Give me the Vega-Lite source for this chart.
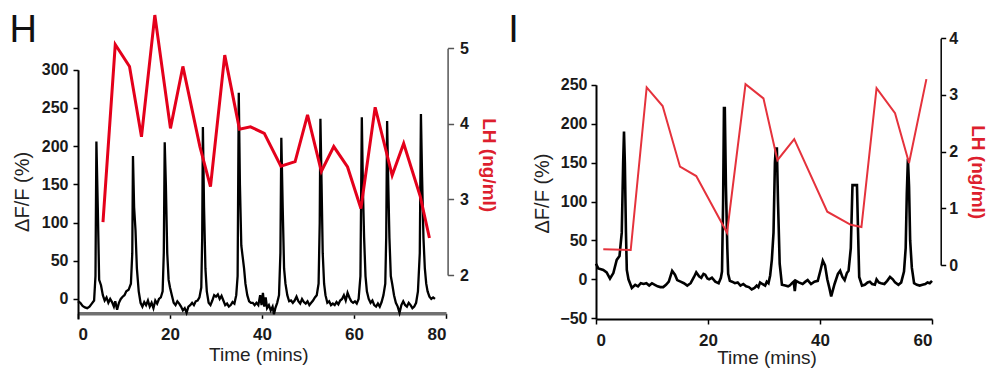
{
  "$schema": "https://vega.github.io/schema/vega-lite/v6.json",
  "background": "white",
  "padding": {"left": 9, "top": 9, "right": 10, "bottom": 0},
  "bounds": "flush",
  "spacing": 150,
  "config": {
    "view": {"stroke": null},
    "axis": {
      "grid": false,
      "labelFont": "Liberation Sans",
      "labelFontSize": 16,
      "labelFontWeight": "bold",
      "labelColor": "#1a1a1a",
      "titleFont": "Liberation Sans",
      "titleFontWeight": "normal",
      "titleColor": "#222222",
      "tickSize": 5,
      "tickWidth": 1.5,
      "tickColor": "#000000",
      "domainColor": "#000000",
      "domainWidth": 2
    }
  },
  "datasets": {
    "hBlack": [
      {"t":0,"v":-3},{"t":0.5,"v":-5},{"t":1,"v":-9},{"t":1.5,"v":-11},{"t":2,"v":-12},{"t":2.5,"v":-10},{"t":3,"v":-6},{"t":3.5,"v":-2},{"t":3.8,"v":30},{"t":4.0,"v":206},{"t":4.3,"v":120},{"t":4.6,"v":25},{"t":5.0,"v":18},{"t":5.4,"v":5},{"t":5.8,"v":-2},{"t":6.2,"v":2},{"t":6.6,"v":-5},{"t":7.0,"v":0},{"t":7.4,"v":-4},{"t":7.8,"v":-10},{"t":8.1,"v":-3},{"t":8.5,"v":-14},{"t":8.9,"v":-5},{"t":9.3,"v":0},{"t":9.7,"v":3},{"t":10.1,"v":5},{"t":10.5,"v":10},{"t":11.0,"v":12},{"t":11.5,"v":20},{"t":11.8,"v":60},{"t":11.95,"v":187},{"t":12.2,"v":120},{"t":12.5,"v":90},{"t":12.8,"v":40},{"t":13.2,"v":10},{"t":13.6,"v":-5},{"t":14.0,"v":-10},{"t":14.4,"v":-4},{"t":14.8,"v":-8},{"t":15.2,"v":-2},{"t":15.6,"v":-10},{"t":16.0,"v":-5},{"t":16.4,"v":-12},{"t":16.8,"v":-2},{"t":17.2,"v":-6},{"t":17.6,"v":0},{"t":18.0,"v":2},{"t":18.4,"v":10},{"t":18.65,"v":60},{"t":18.85,"v":205},{"t":19.1,"v":150},{"t":19.4,"v":60},{"t":19.7,"v":25},{"t":20.0,"v":15},{"t":20.4,"v":5},{"t":20.8,"v":-5},{"t":21.2,"v":-8},{"t":21.6,"v":-3},{"t":22.0,"v":-6},{"t":22.4,"v":-10},{"t":22.8,"v":-15},{"t":23.2,"v":-12},{"t":23.6,"v":-18},{"t":24.0,"v":-10},{"t":24.4,"v":-8},{"t":24.8,"v":-5},{"t":25.2,"v":-8},{"t":25.6,"v":-3},{"t":26.0,"v":-2},{"t":26.4,"v":2},{"t":26.8,"v":15},{"t":27.0,"v":80},{"t":27.15,"v":225},{"t":27.4,"v":120},{"t":27.7,"v":40},{"t":28.0,"v":10},{"t":28.4,"v":-5},{"t":28.8,"v":-8},{"t":29.2,"v":-2},{"t":29.6,"v":5},{"t":30.0,"v":3},{"t":30.4,"v":6},{"t":30.8,"v":0},{"t":31.2,"v":4},{"t":31.6,"v":-2},{"t":32.0,"v":-8},{"t":32.4,"v":-6},{"t":32.8,"v":-10},{"t":33.2,"v":-8},{"t":33.6,"v":-4},{"t":34.0,"v":-6},{"t":34.4,"v":5},{"t":34.7,"v":30},{"t":34.95,"v":270},{"t":35.2,"v":150},{"t":35.5,"v":70},{"t":35.8,"v":55},{"t":36.1,"v":40},{"t":36.4,"v":20},{"t":36.8,"v":5},{"t":37.2,"v":-3},{"t":37.6,"v":-5},{"t":38.0,"v":-5},{"t":38.4,"v":-8},{"t":38.8,"v":-5},{"t":39.2,"v":-8},{"t":39.6,"v":5},{"t":39.9,"v":-8},{"t":40.2,"v":8},{"t":40.5,"v":-10},{"t":40.8,"v":2},{"t":41.1,"v":-12},{"t":41.5,"v":-8},{"t":41.9,"v":-15},{"t":42.3,"v":-10},{"t":42.6,"v":-20},{"t":42.9,"v":-12},{"t":43.3,"v":-5},{"t":43.7,"v":5},{"t":44.0,"v":60},{"t":44.2,"v":211},{"t":44.5,"v":120},{"t":44.8,"v":40},{"t":45.1,"v":20},{"t":45.5,"v":5},{"t":45.9,"v":-3},{"t":46.3,"v":-2},{"t":46.7,"v":-5},{"t":47.1,"v":-2},{"t":47.5,"v":3},{"t":47.9,"v":-3},{"t":48.3,"v":-6},{"t":48.7,"v":0},{"t":49.1,"v":-4},{"t":49.5,"v":-6},{"t":49.9,"v":-3},{"t":50.3,"v":-8},{"t":50.7,"v":-5},{"t":51.1,"v":-2},{"t":51.5,"v":2},{"t":51.9,"v":5},{"t":52.3,"v":20},{"t":52.55,"v":100},{"t":52.7,"v":236},{"t":52.95,"v":150},{"t":53.2,"v":60},{"t":53.5,"v":20},{"t":53.8,"v":5},{"t":54.2,"v":-5},{"t":54.6,"v":-3},{"t":55.0,"v":-8},{"t":55.4,"v":-6},{"t":55.8,"v":-8},{"t":56.2,"v":-4},{"t":56.6,"v":-7},{"t":57.0,"v":-2},{"t":57.4,"v":0},{"t":57.8,"v":5},{"t":58.2,"v":-2},{"t":58.6,"v":8},{"t":59.0,"v":2},{"t":59.4,"v":-3},{"t":59.8,"v":-5},{"t":60.2,"v":-3},{"t":60.6,"v":-6},{"t":61.0,"v":0},{"t":61.4,"v":30},{"t":61.7,"v":238},{"t":61.95,"v":140},{"t":62.2,"v":80},{"t":62.5,"v":30},{"t":62.8,"v":10},{"t":63.2,"v":0},{"t":63.6,"v":-5},{"t":64.0,"v":-2},{"t":64.4,"v":-8},{"t":64.8,"v":-10},{"t":65.2,"v":-6},{"t":65.6,"v":-10},{"t":66.0,"v":-4},{"t":66.4,"v":5},{"t":66.8,"v":20},{"t":67.0,"v":80},{"t":67.2,"v":233},{"t":67.45,"v":150},{"t":67.7,"v":80},{"t":68.0,"v":30},{"t":68.3,"v":20},{"t":68.7,"v":5},{"t":69.1,"v":-5},{"t":69.5,"v":-10},{"t":69.9,"v":-18},{"t":70.3,"v":-8},{"t":70.7,"v":-3},{"t":71.1,"v":-8},{"t":71.5,"v":-10},{"t":71.9,"v":-5},{"t":72.3,"v":-8},{"t":72.7,"v":-12},{"t":73.1,"v":-10},{"t":73.5,"v":-5},{"t":73.9,"v":10},{"t":74.3,"v":60},{"t":74.55,"v":242},{"t":74.8,"v":160},{"t":75.1,"v":80},{"t":75.4,"v":40},{"t":75.7,"v":20},{"t":76.0,"v":10},{"t":76.4,"v":3},{"t":76.8,"v":0},{"t":77.2,"v":2},{"t":77.6,"v":0}
    ],
    "hRed": [
      {"t":5.43,"lh":2.70},{"t":8.1,"lh":5.05},{"t":11.2,"lh":4.76},{"t":13.8,"lh":3.83},{"t":16.7,"lh":5.44},{"t":20.1,"lh":3.94},{"t":22.8,"lh":4.76},{"t":26.5,"lh":3.70},{"t":28.8,"lh":3.17},{"t":31.9,"lh":4.91},{"t":35.1,"lh":3.93},{"t":37.5,"lh":3.96},{"t":40.5,"lh":3.875},{"t":44.1,"lh":3.44},{"t":47.2,"lh":3.50},{"t":49.9,"lh":4.12},{"t":52.9,"lh":3.37},{"t":55.6,"lh":3.70},{"t":58.6,"lh":3.43},{"t":61.5,"lh":2.88},{"t":64.6,"lh":4.22},{"t":68.3,"lh":3.32},{"t":70.8,"lh":3.74},{"t":74.4,"lh":3.04},{"t":76.4,"lh":2.49}
    ],
    "iBlack": [
      {"t":0,"v":20},{"t":0.4,"v":14},{"t":0.9,"v":13},{"t":1.3,"v":12},{"t":1.9,"v":9},{"t":2.5,"v":1},{"t":3.1,"v":8},{"t":3.7,"v":25},{"t":4.2,"v":30},{"t":4.6,"v":60},{"t":4.85,"v":150},{"t":5.0,"v":190},{"t":5.15,"v":150},{"t":5.35,"v":60},{"t":5.5,"v":12},{"t":5.8,"v":0},{"t":6.4,"v":-11},{"t":7.0,"v":-7},{"t":7.5,"v":-9},{"t":8.0,"v":-5},{"t":8.5,"v":-6},{"t":9.0,"v":-5},{"t":9.5,"v":-8},{"t":10.0,"v":-5},{"t":10.5,"v":-7},{"t":11.0,"v":-9},{"t":11.5,"v":-10},{"t":12.0,"v":-10},{"t":12.5,"v":-7},{"t":13.0,"v":-3},{"t":13.6,"v":11},{"t":14.1,"v":6},{"t":14.5,"v":-1},{"t":15.1,"v":-3},{"t":15.7,"v":-5},{"t":16.3,"v":-8},{"t":16.9,"v":-5},{"t":17.5,"v":3},{"t":17.9,"v":9},{"t":18.4,"v":4},{"t":18.8,"v":2},{"t":19.2,"v":7},{"t":19.5,"v":6},{"t":19.9,"v":1},{"t":20.2,"v":0},{"t":20.7,"v":2},{"t":21.3,"v":-3},{"t":21.9,"v":-5},{"t":22.3,"v":2},{"t":22.5,"v":10},{"t":22.7,"v":100},{"t":22.85,"v":220},{"t":23.0,"v":220},{"t":23.2,"v":120},{"t":23.45,"v":40},{"t":23.6,"v":7},{"t":23.9,"v":-2},{"t":24.3,"v":-3},{"t":24.8,"v":-5},{"t":25.3,"v":-4},{"t":25.8,"v":-8},{"t":26.3,"v":-6},{"t":26.8,"v":-9},{"t":27.3,"v":-10},{"t":27.8,"v":-13},{"t":28.3,"v":-11},{"t":28.7,"v":-8},{"t":29.0,"v":-10},{"t":29.3,"v":-4},{"t":29.7,"v":-6},{"t":30.2,"v":-8},{"t":30.5,"v":-3},{"t":30.8,"v":-5},{"t":31.1,"v":5},{"t":31.4,"v":25},{"t":31.7,"v":60},{"t":31.95,"v":150},{"t":32.1,"v":168},{"t":32.3,"v":168},{"t":32.5,"v":100},{"t":32.8,"v":20},{"t":33.2,"v":-7},{"t":33.8,"v":-8},{"t":34.3,"v":-9},{"t":34.6,"v":-8},{"t":35.0,"v":-5},{"t":35.3,"v":-3},{"t":35.5,"v":-15},{"t":35.7,"v":-2},{"t":36.2,"v":-4},{"t":36.9,"v":-6},{"t":37.4,"v":-3},{"t":37.8,"v":-1},{"t":38.4,"v":-6},{"t":39.0,"v":-3},{"t":39.6,"v":-2},{"t":40.1,"v":12},{"t":40.5,"v":24},{"t":40.9,"v":18},{"t":41.3,"v":0},{"t":41.7,"v":-12},{"t":42.0,"v":-22},{"t":42.3,"v":-14},{"t":42.6,"v":-6},{"t":43.2,"v":7},{"t":43.6,"v":11},{"t":44.0,"v":3},{"t":44.4,"v":-1},{"t":44.8,"v":8},{"t":45.1,"v":11},{"t":45.5,"v":40},{"t":45.8,"v":121},{"t":46.6,"v":121},{"t":46.8,"v":60},{"t":47.0,"v":3},{"t":47.5,"v":-8},{"t":48.0,"v":-7},{"t":48.5,"v":-4},{"t":48.9,"v":-3},{"t":49.3,"v":-6},{"t":49.8,"v":-7},{"t":50.1,"v":0},{"t":50.5,"v":-4},{"t":50.9,"v":-5},{"t":51.5,"v":-6},{"t":52.0,"v":-2},{"t":52.5,"v":3},{"t":53.0,"v":0},{"t":53.4,"v":-4},{"t":54.0,"v":-7},{"t":54.5,"v":-4},{"t":55.0,"v":10},{"t":55.3,"v":40},{"t":55.5,"v":110},{"t":55.7,"v":155},{"t":55.9,"v":120},{"t":56.1,"v":50},{"t":56.4,"v":15},{"t":56.8,"v":-5},{"t":57.3,"v":-7},{"t":57.8,"v":-8},{"t":58.3,"v":-7},{"t":58.8,"v":-6},{"t":59.2,"v":-4},{"t":59.6,"v":-5},{"t":60.0,"v":-2}
    ],
    "iRed": [
      {"t":1.3,"lh":0.277},{"t":6.2,"lh":0.265},{"t":9.05,"lh":3.135},{"t":11.9,"lh":2.805},{"t":15.0,"lh":1.735},{"t":17.9,"lh":1.57},{"t":23.4,"lh":0.57},{"t":26.7,"lh":3.19},{"t":29.9,"lh":2.94},{"t":32.4,"lh":1.85},{"t":35.4,"lh":2.22},{"t":41.3,"lh":0.94},{"t":45.5,"lh":0.71},{"t":47.4,"lh":0.67},{"t":50.1,"lh":3.12},{"t":53.4,"lh":2.68},{"t":55.9,"lh":1.80},{"t":59.0,"lh":3.28}
    ],
    "hLabel": [{"label": "H"}],
    "iLabel": [{"label": "I"}]
  },
  "hconcat": [
    {
      "width": 368,
      "height": 308,
      "layer": [
        {
          "data": {"name": "hBlack"},
          "mark": {"type": "line", "color": "#000000", "strokeWidth": 2.3},
          "encoding": {
            "x": {"field": "t", "type": "quantitative", "scale": {"domain": [0, 80], "nice": false, "zero": false},
              "axis": {"title": "Time (mins)", "values": [0, 20, 40, 60, 80], "offset": -5.7, "domainColor": "#707070", "domainWidth": 3.5, "tickSize": 5, "labelPadding": 8, "labelFontSize": 17, "titleFontSize": 19, "titleX": 180.3, "titleY": 41.5, "titleAlign": "center", "titleBaseline": "middle"}},
            "y": {"field": "v", "type": "quantitative", "scale": {"domain": [-26.2, 300], "range": [308, 58.8], "nice": false, "zero": false},
              "axis": {"title": "ΔF/F (%)", "values": [0, 50, 100, 150, 200, 250, 300], "labelPadding": 5, "titleFontSize": 20, "titleX": -55.2, "titleY": 180.4, "titleAngle": 270, "titleAlign": "center", "titleBaseline": "middle"}}
          }
        },
        {
          "data": {"name": "hRed"},
          "mark": {"type": "line", "color": "#e4001b", "strokeWidth": 3},
          "encoding": {
            "x": {"field": "t", "type": "quantitative"},
            "y": {"field": "lh", "type": "quantitative", "scale": {"domain": [2, 5], "range": [264, 37.3], "nice": false, "zero": false},
              "axis": {"orient": "right", "title": "LH (ng/ml)", "values": [2, 3, 4, 5], "offset": 1.6, "domainColor": "#555555", "domainWidth": 1.5, "tickSize": 6, "tickColor": "#555555", "labelPadding": 6, "titleColor": "#dd1f2e", "titleFontWeight": "bold", "titleFontSize": 19, "titleX": 40.7, "titleY": 153.7, "titleAngle": 90, "titleAlign": "center", "titleBaseline": "middle"}}
          }
        },
        {
          "data": {"name": "hLabel"},
          "mark": {"type": "text", "font": "Liberation Sans", "fontSize": 38, "color": "#111111", "align": "left", "baseline": "alphabetic"},
          "encoding": {
            "text": {"field": "label"},
            "x": {"datum": -14.91, "type": "quantitative", "scale": {"domain": [0, 80], "nice": false, "zero": false}},
            "y": {"datum": 336.6, "type": "quantitative", "scale": {"domain": [-26.2, 300], "range": [308, 58.8], "nice": false, "zero": false}, "axis": null}
          }
        }
      ],
      "resolve": {"scale": {"y": "independent"}}
    },
    {
      "width": 336,
      "height": 308,
      "layer": [
        {
          "data": {"name": "iBlack"},
          "mark": {"type": "line", "color": "#000000", "strokeWidth": 2.6},
          "encoding": {
            "x": {"field": "t", "type": "quantitative", "scale": {"domain": [0, 60], "nice": false, "zero": false},
              "axis": {"title": "Time (mins)", "values": [0, 20, 40, 60], "offset": 0, "domainWidth": 2, "tickSize": 5, "labelPadding": 8, "labelFontSize": 17, "titleFontSize": 19, "titleX": 170.5, "titleY": 38.5, "titleAlign": "center", "titleBaseline": "middle"}},
            "y": {"field": "v", "type": "quantitative", "scale": {"domain": [-51, 250], "range": [308, 73.8], "nice": false, "zero": false},
              "axis": {"title": "ΔF/F (%)", "values": [-50, 0, 50, 100, 150, 200, 250], "labelPadding": 4, "titleFontSize": 20, "titleX": -54, "titleY": 182, "titleAngle": 270, "titleAlign": "center", "titleBaseline": "middle"}}
          }
        },
        {
          "data": {"name": "iRed"},
          "mark": {"type": "line", "color": "#e5323c", "strokeWidth": 2},
          "encoding": {
            "x": {"field": "t", "type": "quantitative"},
            "y": {"field": "lh", "type": "quantitative", "scale": {"domain": [0, 4], "range": [254, 27.3], "nice": false, "zero": false},
              "axis": {"orient": "right", "title": "LH (ng/ml)", "values": [0, 1, 2, 3, 4], "offset": 8.7, "domainWidth": 1.5, "tickSize": 5, "labelPadding": 3, "titleColor": "#dd1f2e", "titleFontWeight": "bold", "titleFontSize": 19, "titleX": 36.3, "titleY": 160.7, "titleAngle": 90, "titleAlign": "center", "titleBaseline": "middle"}}
          }
        },
        {
          "data": {"name": "iLabel"},
          "mark": {"type": "text", "font": "Liberation Sans", "fontSize": 38, "color": "#111111", "align": "left", "baseline": "alphabetic"},
          "encoding": {
            "text": {"field": "label"},
            "x": {"datum": -15.68, "type": "quantitative", "scale": {"domain": [0, 60], "nice": false, "zero": false}},
            "y": {"datum": 305.3, "type": "quantitative", "scale": {"domain": [-51, 250], "range": [308, 73.8], "nice": false, "zero": false}, "axis": null}
          }
        }
      ],
      "resolve": {"scale": {"y": "independent"}}
    }
  ]
}
